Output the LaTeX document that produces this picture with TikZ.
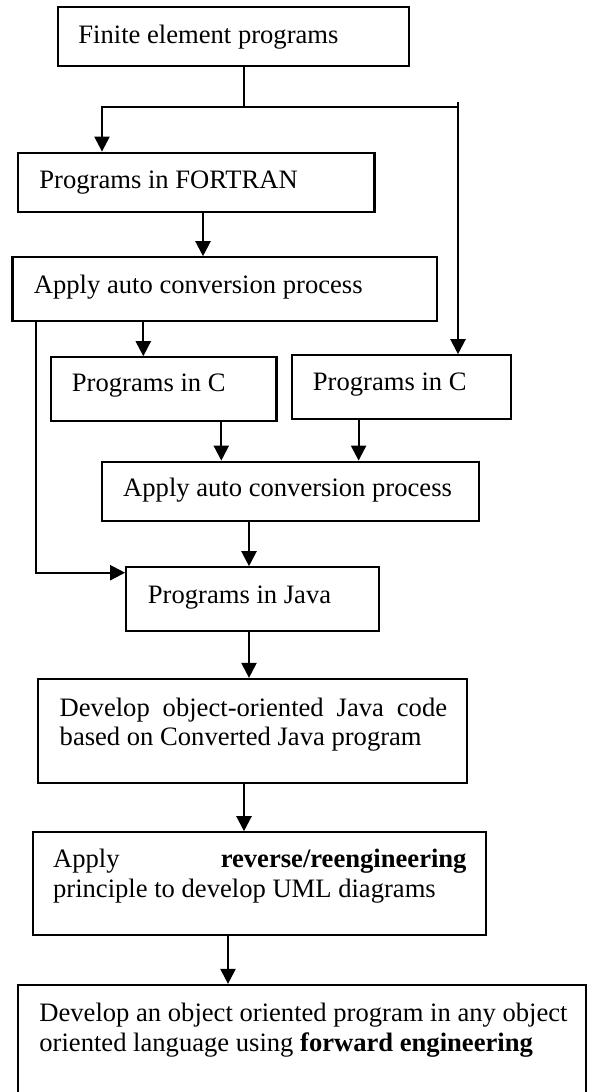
\documentclass[tikz,border=0pt]{standalone}
\usepackage{fontspec}
\setmainfont{Liberation Serif}
\usetikzlibrary{arrows.meta,fit}

\tikzset{
  box/.style={draw=black, line width=1.1pt, inner sep=0pt, rectangle},
  txt/.style={inner sep=0pt, anchor=base west, font=\fontsize{13.3}{14.7}\selectfont},
  para/.style={txt, text width=285pt, align=flush left},
  link/.style={draw=black, line width=1.1pt},
  arr/.style={link, -{Triangle[length=7.5pt,width=7.5pt]}},
}

\begin{document}
\begin{tikzpicture}[x=0.5pt,y=-0.5pt]
  \fill[white] (0,0) rectangle (596,1092);
  \useasboundingbox (0,0) rectangle (596,1092);

  % boxes
  \node[box, fit={(58,7.3) (409,65.7)}] (b1) {};
  \node[box, fit={(18,152.7) (374.5,212)}] (b2) {};
  \node[box, fit={(12.5,257.3) (437,320.7)}] (b3) {};
  \node[box, fit={(51,357.3) (276.4,420.7)}] (b4) {};
  \node[box, fit={(291.6,355.3) (511,418.7)}] (b5) {};
  \node[box, fit={(101.9,461.7) (479,520.7)}] (b6) {};
  \node[box, fit={(126.2,567.3) (378.7,631)}] (b7) {};
  \node[box, fit={(38.3,679) (467.3,783)}] (b8) {};
  \node[box, fit={(32.7,832.3) (486,935)}] (b9) {};
  \node[box, fit={(18.3,985) (586,1110)}] (b10) {};

  % labels
  \node[txt] (t1) at (78,43) {Finite element programs};
  \node[txt] (t2) at (39,188) {Programs in FORTRAN};
  \node[txt] (t3) at (33.5,293) {Apply auto conversion process};
  \node[txt] (t4) at (71.5,391.7) {Programs in C};
  \node[txt] (t5) at (312.5,390) {Programs in C};
  \node[txt] (t6) at (122.8,496.7) {Apply auto conversion process};
  \node[txt] (t7) at (147.5,603) {Programs in Java};
  \node[para] (t8) at (59.3,716)
    {\makebox[193.7pt][s]{Develop object-oriented Java code}\\
     based on Converted Java program};
  \node[para] (t9) at (52.7,867.7)
    {\makebox[206.7pt][s]{Apply \textbf{reverse/reengineering}}\\
     principle to develop UML diagrams};
  \node[para] (t10) at (39,1021.7)
    {Develop an object oriented program in any object\\
     oriented language using \textbf{forward engineering}};

  % routing points
  \coordinate (fork) at (244,106.7);
  \coordinate (fl) at (102,106.7);
  \coordinate (fr) at (458,106.7);
  \coordinate (frtop) at (458,101.7);
  \coordinate (bend) at (36,572.7);

  % connectors
  \draw[link] (b1.south -| fork) -- (fork);
  \draw[arr] (fr) -- (fl) -- (b2.north -| fl);
  \draw[arr] (frtop) -- (b5.north -| frtop);
  \draw[arr] (b2.south -| 203,0) -- (b3.north -| 203,0);
  \draw[arr] (b3.south -| 143.3,0) -- (b4.north -| 143.3,0);
  \draw[arr] (b3.south -| bend) -- (bend) -- (b7.west |- bend);
  \draw[arr] (b4.south -| 221.3,0) -- (b6.north -| 221.3,0);
  \draw[arr] (b5.south -| 358.6,0) -- (b6.north -| 358.6,0);
  \draw[arr] (b6.south -| 249,0) -- (b7.north -| 249,0);
  \draw[arr] (b7.south -| 249,0) -- (b8.north -| 249,0);
  \draw[arr] (b8.south -| 244,0) -- (b9.north -| 244,0);
  \draw[arr] (b9.south -| 228,0) -- (b10.north -| 228,0);
\end{tikzpicture}
\end{document}
